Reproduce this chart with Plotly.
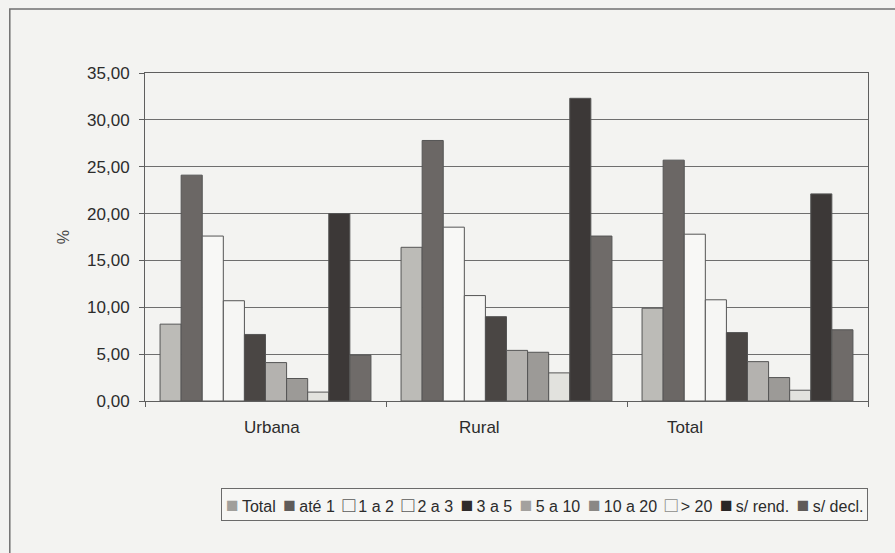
import plotly.graph_objects as go

# Households by income bracket (salários mínimos), share in % per area
categories = ["Urbana", "Rural", "Total"]

total = [8.2, 16.4, 9.9]
ate_1 = [24.1, 27.8, 25.7]
de_1_a_2 = [17.6, 18.55, 17.8]
de_2_a_3 = [10.7, 11.25, 10.8]
de_3_a_5 = [7.1, 9.0, 7.3]
de_5_a_10 = [4.1, 5.4, 4.2]
de_10_a_20 = [2.4, 5.2, 2.5]
mais_20 = [0.95, 3.0, 1.15]
sem_rend = [20.0, 32.3, 22.1]
sem_decl = [4.9, 17.6, 7.6]

series_names = ["Total", "até 1", "1 a 2", "2 a 3", "3 a 5",
                "5 a 10", "10 a 20", "> 20", "s/ rend.", "s/ decl."]
series_values = [total, ate_1, de_1_a_2, de_2_a_3, de_3_a_5,
                 de_5_a_10, de_10_a_20, mais_20, sem_rend, sem_decl]

y_tick_vals = [0, 5, 10, 15, 20, 25, 30, 35]
y_tick_text = ["0,00", "5,00", "10,00", "15,00", "20,00", "25,00", "30,00", "35,00"]

# bar fills and the matching legend swatch (filled or hollow square)
fills = ["#bcbbb7", "#6b6765", "#f8f8f6", "#f6f6f4", "#4a4644",
         "#b4b2af", "#9c9a97", "#e2e2de", "#3c3837", "#6f6b69"]
swatch_colors = ["#a09f9b", "#5f5b59", "#5a5a5a", "#5a5a5a", "#2f2b2a",
                 "#a3a19e", "#8a8885", "#8c8c8a", "#2a2625", "#5f5b59"]
swatch_glyphs = ["■", "■", "□", "□", "■", "■", "■", "□", "■", "■"]

# where the category captions sit along the category axis
label_positions = [0.027, 0.89, 1.74]

font_family = "Liberation Sans, Arial, sans-serif"
text_color = "#2c2c2c"
bg = "#f3f3f1"

positions = list(range(len(categories)))

fig = go.Figure()
for name, vals, col in zip(series_names, series_values, fills):
    fig.add_trace(go.Bar(
        x=positions, y=vals, name=name,
        marker=dict(color=col, line=dict(color="#555555", width=1)),
    ))

# legend line: swatch glyph + series name, boxed
nb = "\u00a0"
legend_parts = []
for name, glyph, col in zip(series_names, swatch_glyphs, swatch_colors):
    legend_parts.append(
        f"<span style='color:{col};font-size:21px'>{glyph}</span>"
        f"\u2009{name.replace(' ', nb)}"
    )
legend_text = (nb + "\u2009").join(legend_parts)

annotations = [dict(
    text="%", xref="paper", yref="paper", x=-0.113, y=0.5,
    xanchor="center", yanchor="middle",
    showarrow=False, textangle=-90, font=dict(size=16, color="#4a4a4a"),
)]
for cat, pos in zip(categories, label_positions):
    annotations.append(dict(
        text=cat, xref="x", yref="paper", x=pos, y=-0.082,
        xanchor="center", yanchor="middle", showarrow=False,
        font=dict(size=17, color=text_color),
    ))
annotations.append(dict(
    text=legend_text, xref="paper", yref="paper", x=0.552, y=-0.317,
    xanchor="center", yanchor="middle", showarrow=False,
    font=dict(size=16, color=text_color),
    bordercolor="#6a6a6a", borderwidth=1, borderpad=4, bgcolor="#f6f6f4",
))

fig.update_layout(
    width=895, height=553,
    margin=dict(l=145, r=27, t=73, b=152),
    paper_bgcolor=bg, plot_bgcolor=bg,
    barmode="group", bargap=0.125, bargroupgap=0,
    font=dict(family=font_family, size=16, color=text_color),
    showlegend=False,
    xaxis=dict(
        range=[-0.5, len(categories) - 0.5],
        tickvals=[p - 0.5 for p in positions] + [len(categories) - 0.5],
        showticklabels=False,
        showline=True, linecolor="#5e5e5e", linewidth=1, mirror=True,
        ticks="outside", ticklen=5, tickcolor="#5e5e5e",
        showgrid=False, zeroline=False,
    ),
    yaxis=dict(
        range=[0, 35], tickvals=y_tick_vals, ticktext=y_tick_text,
        showline=True, linecolor="#5e5e5e", linewidth=1, mirror=True,
        ticks="outside", ticklen=5, tickcolor="#5e5e5e",
        showgrid=True, gridcolor="#6e6e6e", gridwidth=1,
        zeroline=False, ticklabelstandoff=6,
        tickfont=dict(size=17, color=text_color),
    ),
    annotations=annotations,
    shapes=[dict(
        type="rect", xref="paper", yref="paper",
        x0=-0.187, x1=1.2, y0=-0.8, y1=1.195,
        line=dict(color="#707070", width=1.5), layer="below",
    )],
)

fig.write_html("out.html")
